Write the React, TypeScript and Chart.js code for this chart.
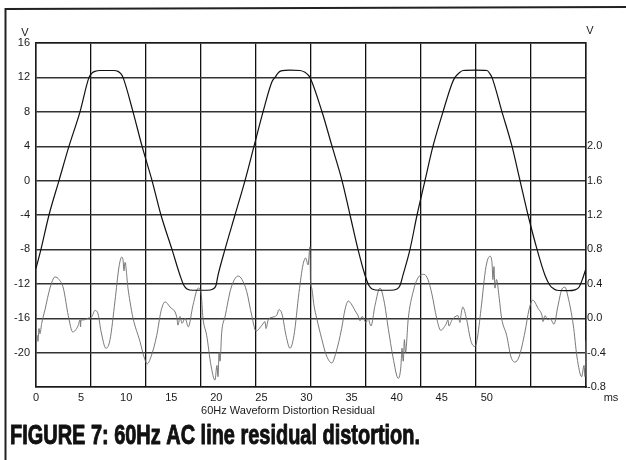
import { useEffect, useRef } from 'react';
import { Chart, registerables } from 'chart.js';

Chart.register(...registerables);

// Supply waveform (left axis, volts) sampled against time (ms)
const supplyT = [0, 0.55, 1.44, 2.55, 3.66, 4.88, 5.88, 6.21, 6.54, 7.1, 7.87, 8.65, 9.09, 9.43, 9.65, 10.76, 11.76, 12.87, 13.86, 15.08, 15.97, 16.41, 16.75, 17.41, 18.19, 18.97, 19.63, 19.96, 20.19, 20.96, 22.07, 23.18, 24.18, 25.18, 26.17, 26.51, 26.84, 27.17, 28.17, 29.28, 29.83, 30.17, 30.39, 31.72, 32.83, 33.94, 34.83, 35.71, 36.49, 36.93, 37.27, 38.15, 39.26, 40.04, 40.37, 40.7, 41.48, 42.26, 43.14, 44.03, 45.14, 46.14, 46.47, 46.91, 47.36, 48.69, 50.02, 50.35, 50.57, 51.68, 52.79, 53.68, 54.57, 55.57, 56.45, 57.01, 57.45, 57.78, 59.0, 59.78, 60.22, 60.56, 61.0];
const supplyV = [-10.2, -8, -4, 0, 4, 8, 12, 12.5, 12.7, 12.8, 12.8, 12.8, 12.7, 12.4, 12, 8, 4, 0, -4, -8, -11, -12.2, -12.6, -12.75, -12.75, -12.75, -12.6, -12.2, -11, -8, -4, 0, 4, 8, 11.5, 12, 12.5, 12.75, 12.85, 12.8, 12.6, 12.3, 12, 8, 4, 0, -4, -8, -11, -12.2, -12.6, -12.75, -12.75, -12.6, -12.2, -11, -8, -4, 0, 4, 8, 11.3, 12, 12.5, 12.8, 12.85, 12.8, 12.4, 12, 8, 4, 0, -4, -8, -11, -12.2, -12.6, -12.75, -12.8, -12.7, -12.4, -11.6, -10.2];

// Distortion residual (right axis, volts) sampled against time (ms)
const residT = [0, 0.11, 0.22, 0.33, 0.44, 0.63, 1.0, 1.55, 2.11, 2.55, 3.03, 3.58, 4.07, 4.66, 4.88, 4.94, 4.99, 5.25, 5.77, 6.18, 6.54, 6.88, 7.21, 7.76, 8.21, 8.76, 9.21, 9.5, 9.65, 9.76, 9.87, 10.2, 10.43, 10.76, 11.53, 11.98, 12.34, 12.75, 13.39, 13.86, 14.31, 14.86, 15.61, 15.75, 15.97, 16.19, 16.53, 16.89, 17.41, 18.0, 18.3, 18.52, 18.93, 19.41, 19.85, 20.07, 20.19, 20.3, 20.41, 20.6, 20.96, 21.63, 22.43, 22.85, 23.37, 23.92, 24.4, 25.07, 25.4, 25.51, 25.76, 26.17, 26.7, 26.95, 27.28, 27.73, 28.17, 28.61, 29.17, 29.61, 29.91, 30.17, 30.39, 30.44, 30.58, 30.83, 31.13, 31.69, 32.16, 32.8, 33.27, 33.9, 34.27, 34.64, 34.94, 35.38, 35.71, 35.94, 36.16, 36.6, 36.82, 37.15, 37.6, 38.15, 38.6, 39.07, 39.59, 40.18, 40.48, 40.59, 40.73, 40.86, 40.98, 41.29, 41.81, 42.37, 43.03, 43.47, 43.89, 44.44, 44.88, 45.47, 45.69, 45.8, 46.14, 46.8, 47.02, 47.14, 47.33, 47.69, 48.25, 48.69, 48.94, 49.35, 49.91, 50.35, 50.57, 50.68, 50.79, 50.9, 51.07, 51.38, 51.64, 52.2, 52.68, 53.12, 53.57, 54.23, 54.68, 55.09, 55.71, 56.12, 56.23, 56.45, 56.79, 57.01, 57.45, 57.9, 58.34, 58.67, 59.0, 59.59, 60.0, 60.52, 60.78, 60.89, 61.0];
const residV = [-0.29, -0.2, -0.27, -0.12, -0.18, -0.06, 0.1, 0.35, 0.48, 0.45, 0.35, 0.03, -0.16, -0.09, -0.02, -0.1, -0.02, -0.02, 0.0, 0.015, 0.09, 0.05, -0.15, -0.35, -0.25, 0.2, 0.6, 0.71, 0.68, 0.55, 0.65, 0.35, 0.19, 0.0, -0.27, -0.45, -0.53, -0.45, -0.2, 0.08, 0.19, 0.13, 0.015, -0.08, 0.02, -0.06, 0.0, -0.1, 0.15, 0.35, 0.3, 0.0, -0.2, -0.55, -0.72, -0.55, -0.68, -0.4, -0.5, -0.16, 0.015, 0.35, 0.49, 0.45, 0.31, 0.035, -0.15, -0.08, -0.04, -0.12, -0.02, 0.01, 0.035, 0.1, 0.05, -0.2, -0.35, -0.2, 0.3, 0.62, 0.7, 0.62, 0.83, 0.45, 0.35, 0.15, 0.0, -0.24, -0.42, -0.52, -0.4, -0.12, 0.1, 0.2, 0.17, 0.09, 0.03, -0.03, 0.02, -0.05, 0.0, -0.09, 0.15, 0.35, 0.2, -0.12, -0.45, -0.7, -0.55, -0.35, -0.5, -0.25, -0.4, 0.0, 0.3, 0.47, 0.51, 0.45, 0.29, 0.0, -0.14, -0.07, -0.02, -0.09, -0.02, 0.03, -0.05, 0.04, 0.13, 0.02, -0.27, -0.33, -0.24, 0.1, 0.6, 0.72, 0.65, 0.45, 0.6, 0.35, 0.45, 0.23, 0.0, -0.2, -0.45, -0.51, -0.45, -0.16, 0.1, 0.21, 0.11, 0.03, -0.04, 0.03, -0.02, 0.0, -0.07, 0.15, 0.34, 0.36, 0.25, -0.08, -0.45, -0.68, -0.55, -0.68, -0.26];

// Axis ranges and tick labels
const xRange = [0, 61];
const xTickValues = [0, 5, 10, 15, 20, 25, 30, 35, 40, 45, 50];
const gridDivisions = 10;
const leftRange = [-24, 16];
const leftStep = 4;
const leftHidden = [-24];
const rightRange = [-0.8, 3.2];
const rightStep = 0.4;
const rightMaxLabel = 2.0;

const subtitle = '60Hz Waveform Distortion Residual';
const caption = 'FIGURE 7: 60Hz AC line residual distortion.';
const FONT = "'Liberation Sans', Arial, Helvetica, sans-serif";

const textPlugin = {
  id: 'figureTexts',
  beforeDraw(chart: any) {
    const ctx = chart.ctx;
    ctx.save();
    ctx.fillStyle = '#ffffff';
    ctx.fillRect(0, 0, chart.width, chart.height);
    ctx.restore();
  },
  afterDraw(chart: any) {
    const ctx = chart.ctx;
    const a = chart.chartArea;
    ctx.save();
    ctx.fillStyle = '#1a1a1a';
    ctx.font = `11px ${FONT}`;
    ctx.textAlign = 'center';
    ctx.textBaseline = 'middle';
    ctx.fillText('V', a.left - 11, a.top - 10);
    ctx.fillText('V', a.right + 4, a.top - 12);
    ctx.fillText('ms', a.right + 25, a.bottom + 11);
    ctx.fillText(subtitle, 288, a.bottom + 24);

    ctx.font = `bold 28px ${FONT}`;
    const w = ctx.measureText(caption).width;
    ctx.translate(10, 444);
    ctx.scale(410 / w, 1);
    ctx.textAlign = 'left';
    ctx.textBaseline = 'alphabetic';
    ctx.fillStyle = '#111';
    ctx.strokeStyle = '#111';
    ctx.lineWidth = 1;
    ctx.lineJoin = 'round';
    ctx.fillText(caption, 0, 0);
    ctx.strokeText(caption, 0, 0);
    ctx.restore();

    ctx.save();
    ctx.strokeStyle = '#222';
    ctx.lineWidth = 2;
    ctx.beginPath();
    ctx.moveTo(5.5, 460);
    ctx.lineTo(5.5, 9);
    ctx.lineTo(626, 7);
    ctx.stroke();
    ctx.restore();
  },
};

export default function App() {
  const ref = useRef<HTMLCanvasElement | null>(null);

  useEffect(() => {
    if (!ref.current) return;
    Chart.defaults.font.family = FONT;
    Chart.defaults.font.size = 11;
    Chart.defaults.color = '#1a1a1a';

    const chart = new Chart(ref.current, {
      type: 'line',
      data: {
        datasets: [
          {
            label: 'supply',
            data: supplyT.map((t, i) => ({ x: t, y: supplyV[i] })),
            xAxisID: 'x',
            yAxisID: 'y',
            borderColor: '#111',
            borderWidth: 1.2,
            pointRadius: 0,
            cubicInterpolationMode: 'monotone',
            fill: false,
          },
          {
            label: 'residual',
            data: residT.map((t, i) => ({ x: t, y: residV[i] })),
            xAxisID: 'x',
            yAxisID: 'y2',
            borderColor: '#6a6a6a',
            borderWidth: 0.9,
            pointRadius: 0,
            cubicInterpolationMode: 'monotone',
            fill: false,
          },
        ],
      },
      options: {
        animation: false,
        responsive: false,
        maintainAspectRatio: false,
        layout: { padding: { left: 0, right: 0, top: 43, bottom: 40 } },
        plugins: { legend: { display: false }, tooltip: { enabled: false }, title: { display: false } },
        scales: {
          x: {
            type: 'linear',
            position: 'bottom',
            min: xRange[0],
            max: xRange[1],
            afterBuildTicks: (axis: any) => {
              axis.ticks = xTickValues.map((v) => ({ value: v }));
            },
            afterFit: (axis: any) => {
              axis.height = 33;
            },
            ticks: { autoSkip: false, maxRotation: 0, padding: 4, callback: (v: any) => String(v) },
            grid: { display: false, drawTicks: false },
            border: { display: true, color: '#1a1a1a', width: 1.5 },
          },
          xg: {
            type: 'linear',
            position: 'top',
            min: 0,
            max: gridDivisions,
            ticks: { display: false, stepSize: 1 },
            afterFit: (axis: any) => {
              axis.height = 0;
            },
            grid: { display: true, drawTicks: false, color: '#111', lineWidth: 1.3 },
            border: { display: true, color: '#1a1a1a', width: 1.5 },
          },
          y: {
            type: 'linear',
            position: 'left',
            min: leftRange[0],
            max: leftRange[1],
            afterFit: (axis: any) => {
              axis.width = 36;
            },
            ticks: {
              stepSize: leftStep,
              padding: 6,
              callback: (v: any) => (leftHidden.includes(Number(v)) ? '' : String(v)),
            },
            grid: { display: true, drawTicks: false, color: '#333', lineWidth: 1.4 },
            border: { display: true, color: '#1a1a1a', width: 1.5 },
          },
          y2: {
            type: 'linear',
            position: 'right',
            min: rightRange[0],
            max: rightRange[1],
            afterFit: (axis: any) => {
              axis.width = 40;
            },
            ticks: {
              stepSize: rightStep,
              padding: 1,
              callback: (v: any) => {
                const n = Number(v);
                if (n > rightMaxLabel + 1e-6) return '';
                return Math.abs(n) < 1e-9 ? '0.0' : n.toFixed(1);
              },
            },
            grid: { display: false, drawTicks: false },
            border: { display: true, color: '#1a1a1a', width: 1.5 },
          },
        },
      },
      plugins: [textPlugin],
    } as any);

    return () => chart.destroy();
  }, []);

  return (
    <div style={{ position: 'fixed', left: 0, top: 0, width: 626, height: 460, background: '#fff', overflow: 'hidden' }}>
      <canvas ref={ref} width={626} height={460} style={{ display: 'block', width: 626, height: 460 }} />
    </div>
  );
}
